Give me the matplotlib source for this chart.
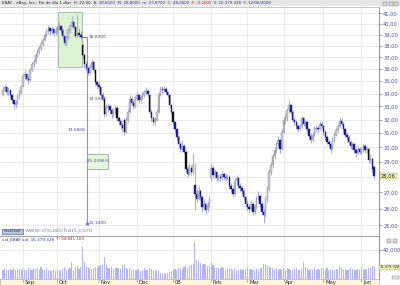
import numpy as np
import pandas as pd
import matplotlib
matplotlib.use("Agg")
import matplotlib.pyplot as plt
from matplotlib.patches import Rectangle
from matplotlib.text import Annotation

# ---------------- data ----------------
holidays = ['2007-09-03', '2007-11-22', '2007-12-25', '2008-01-01', '2008-01-21',
            '2008-02-18', '2008-03-21', '2008-05-26']
dates = pd.bdate_range('2007-08-17', '2008-06-11', freq='C', holidays=holidays)

opens = [34.0, 34.3, 34.5, 34.1, 34.3, 33.9, 33.5, 33.1, 33.3, 33.8,
         34.1, 34.6, 35.4, 35.6, 35.2, 35.1, 35.9, 36.4, 36.6, 37.2,
         37.5, 37.8, 38.2, 38.5, 39.0, 39.3, 39.6, 39.3, 39.5, 39.2,
         39.4, 39.6, 39.8, 39.4, 38.9, 38.3, 38.7, 39.4, 39.8, 40.2,
         39.7, 38.9, 39.2, 39.0, 38.1, 37.2, 36.4, 36.1, 35.7, 36.2,
         36.6, 35.9, 34.9, 34.7, 34.5, 33.9, 33.6, 32.4, 32.9, 33.0,
         32.7, 32.4, 32.6, 32.9, 32.1, 31.9, 31.6, 32.0, 31.1, 32.0,
         32.6, 33.6, 33.3, 33.0, 33.6, 33.9, 33.5, 33.7, 33.9, 34.1,
         34.2, 33.9, 32.6, 32.1, 31.8, 32.0, 32.6, 33.9, 34.4, 34.3,
         34.4, 34.1, 33.9, 33.1, 32.6, 31.8, 31.3, 30.7, 30.2, 29.9,
         30.1, 29.7, 28.5, 28.2, 28.6, 28.3, 27.5, 26.9, 26.6, 27.1,
         26.7, 26.1, 26.3, 25.9, 26.2, 27.9, 28.6, 28.1, 28.3, 27.9,
         28.0, 27.9, 28.2, 28.0, 27.9, 28.0, 27.4, 27.2, 26.9, 27.7,
         27.9, 27.4, 27.3, 27.1, 26.7, 26.3, 26.1, 26.0, 26.3, 25.8,
         26.1, 26.6, 26.8, 26.3, 25.8, 25.6, 26.6, 27.2, 28.3, 28.8,
         29.4, 29.8, 30.2, 30.5, 29.9, 31.1, 32.0, 32.1, 32.7, 33.1,
         32.6, 32.0, 31.8, 31.5, 31.3, 31.5, 32.1, 31.7, 31.8, 31.3,
         30.8, 30.5, 30.9, 31.3, 31.4, 31.3, 31.7, 31.5, 31.1, 30.7,
         30.4, 30.2, 29.9, 30.5, 30.9, 31.2, 31.5, 31.9, 31.7, 31.3,
         30.9, 30.7, 30.4, 30.1, 30.2, 29.8, 29.6, 29.9, 29.7, 29.8,
         30.1, 29.8, 29.9, 29.1, 29.2, 28.65]
highs = [34.6, 34.8, 34.6, 34.5, 34.4, 34.0, 33.6, 33.5, 34.0, 34.3,
         34.7, 35.6, 35.9, 35.7, 35.5, 36.1, 36.6, 36.9, 37.4, 37.7,
         38.0, 38.4, 38.7, 39.2, 39.5, 39.9, 39.7, 39.8, 39.6, 39.7,
         39.9, 40.2, 39.9, 39.5, 39.0, 38.9, 39.6, 40.0, 40.7, 40.3,
         39.8, 40.8, 39.6, 39.3, 38.3, 37.4, 36.7, 36.3, 36.4, 36.9,
         36.7, 36.0, 35.1, 35.0, 34.6, 34.1, 33.8, 33.2, 33.3, 33.1,
         32.9, 32.9, 33.1, 33.0, 32.3, 32.0, 31.8, 32.1, 32.2, 32.8,
         33.9, 33.8, 33.5, 33.8, 34.1, 34.0, 33.9, 34.1, 34.3, 34.5,
         34.4, 34.0, 32.8, 32.3, 32.2, 32.8, 34.1, 34.6, 34.6, 34.6,
         34.5, 34.2, 34.0, 33.2, 32.7, 31.9, 31.4, 30.9, 30.4, 30.5,
         30.2, 29.8, 28.7, 28.9, 28.8, 29.6, 28.9, 27.2, 27.4, 27.2,
         26.8, 26.6, 26.4, 26.4, 26.8, 28.9, 28.8, 28.5, 28.4, 28.2,
         28.2, 28.4, 28.3, 28.2, 28.2, 28.1, 27.6, 27.3, 27.9, 28.1,
         28.0, 27.6, 27.4, 27.2, 26.8, 26.5, 26.3, 26.5, 26.4, 26.3,
         26.8, 27.1, 26.9, 26.4, 26.0, 26.8, 27.4, 28.5, 29.0, 29.6,
         30.0, 30.4, 30.8, 30.6, 31.3, 32.2, 32.4, 32.9, 33.5, 33.2,
         32.7, 32.2, 32.0, 31.7, 31.7, 32.3, 32.2, 32.0, 31.9, 31.4,
         31.0, 31.1, 31.5, 31.6, 31.5, 31.9, 31.9, 31.6, 31.2, 30.9,
         30.6, 30.3, 30.7, 31.1, 31.4, 31.7, 32.1, 32.1, 31.8, 31.4,
         31.1, 30.9, 30.5, 30.4, 30.3, 30.0, 30.1, 30.0, 30.0, 30.3,
         30.2, 30.1, 30.0, 29.5, 29.3, 28.8]
lows = [33.8, 34.1, 33.9, 33.9, 33.7, 33.3, 32.8, 32.9, 33.2, 33.6,
        34.0, 34.5, 35.2, 35.0, 34.8, 35.0, 35.8, 36.2, 36.5, 37.0,
        37.3, 37.6, 38.0, 38.4, 38.8, 39.1, 39.0, 39.1, 38.9, 39.0,
        39.2, 39.4, 39.2, 38.6, 38.0, 38.1, 38.6, 39.2, 39.6, 39.5,
        38.7, 38.8, 38.8, 38.5, 36.9, 36.1, 35.9, 35.5, 35.6, 36.0,
        35.7, 34.7, 34.4, 34.2, 33.7, 33.4, 32.2, 32.3, 32.6, 32.4,
        32.1, 32.2, 32.4, 31.9, 31.6, 31.3, 31.1, 30.9, 31.0, 31.8,
        32.5, 33.1, 32.8, 32.9, 33.4, 33.3, 33.3, 33.5, 33.7, 33.9,
        33.8, 32.4, 31.9, 31.6, 31.6, 31.9, 32.5, 33.8, 34.0, 34.1,
        33.9, 33.7, 32.9, 32.4, 31.6, 31.1, 30.5, 30.0, 29.7, 29.8,
        29.5, 28.3, 28.0, 28.1, 28.1, 28.2, 25.9, 26.4, 26.5, 26.5,
        25.8, 25.9, 25.7, 25.8, 26.1, 27.7, 27.9, 27.9, 27.7, 27.7,
        27.7, 27.8, 27.8, 27.7, 27.8, 27.2, 27.0, 26.7, 26.8, 27.5,
        27.2, 27.1, 26.9, 26.5, 26.1, 25.9, 25.8, 25.9, 25.6, 25.7,
        26.0, 26.5, 26.1, 25.6, 25.14, 25.5, 26.4, 27.1, 28.1, 28.6,
        29.2, 29.6, 30.0, 29.6, 29.8, 31.0, 31.7, 31.9, 32.5, 32.4,
        31.8, 31.6, 31.3, 31.1, 31.2, 31.4, 31.5, 31.5, 31.1, 30.6,
        30.3, 30.4, 30.8, 31.1, 31.1, 31.2, 31.3, 30.9, 30.5, 30.2,
        30.0, 29.6, 29.8, 30.4, 30.8, 31.1, 31.4, 31.5, 31.1, 30.7,
        30.5, 30.2, 29.9, 29.9, 29.6, 29.3, 29.5, 29.5, 29.5, 29.7,
        29.6, 29.6, 28.9, 28.9, 28.3, 27.87]
closes = [34.3, 34.5, 34.1, 34.3, 33.9, 33.5, 33.2, 33.3, 33.8, 34.1,
          34.5, 35.4, 35.6, 35.2, 35.1, 35.9, 36.4, 36.6, 37.2, 37.5,
          37.8, 38.2, 38.5, 39.0, 39.3, 39.6, 39.3, 39.5, 39.2, 39.4,
          39.6, 39.8, 39.4, 38.9, 38.3, 38.7, 39.4, 39.8, 40.2, 39.7,
          38.9, 39.2, 39.0, 38.8, 37.2, 36.4, 36.1, 35.7, 36.2, 36.6,
          35.9, 34.9, 34.7, 34.5, 33.9, 33.6, 32.4, 32.9, 33.0, 32.7,
          32.4, 32.6, 32.9, 32.1, 31.9, 31.6, 31.4, 31.1, 32.0, 32.6,
          33.6, 33.3, 33.0, 33.6, 33.9, 33.5, 33.7, 33.9, 34.1, 34.2,
          34.0, 32.6, 32.1, 31.8, 32.0, 32.6, 33.9, 34.4, 34.3, 34.4,
          34.1, 33.9, 33.1, 32.6, 31.8, 31.3, 30.7, 30.2, 29.9, 30.1,
          29.7, 28.5, 28.2, 28.6, 28.3, 28.8, 26.9, 26.6, 27.1, 26.7,
          26.1, 26.3, 25.9, 26.2, 26.6, 28.6, 28.1, 28.3, 27.9, 28.0,
          27.9, 28.2, 28.0, 27.9, 28.0, 27.4, 27.2, 26.9, 27.7, 27.9,
          27.4, 27.3, 27.1, 26.7, 26.3, 26.1, 26.0, 26.3, 25.8, 26.1,
          26.6, 26.8, 26.3, 25.8, 25.6, 26.6, 27.2, 28.3, 28.8, 29.4,
          29.8, 30.2, 30.5, 29.9, 31.1, 32.0, 32.1, 32.7, 33.1, 32.6,
          32.0, 31.8, 31.5, 31.3, 31.5, 32.1, 31.7, 31.8, 31.3, 30.8,
          30.5, 30.9, 31.3, 31.4, 31.3, 31.7, 31.5, 31.1, 30.7, 30.4,
          30.2, 29.9, 30.5, 30.9, 31.2, 31.5, 31.9, 31.7, 31.3, 30.9,
          30.7, 30.4, 30.1, 30.2, 29.8, 29.6, 29.9, 29.7, 29.8, 30.1,
          29.8, 29.9, 29.1, 29.2, 28.5, 28.06]
volume_m = [13, 14, 12, 13, 14, 12, 15, 13, 12, 14, 13,
            14, 13, 12, 15, 14, 13, 16, 14, 15, 13,
            17, 14, 13, 15, 12, 11, 13, 12, 11,
            12, 11, 13, 14, 17, 12, 14, 15, 24, 13, 16, 18, 14, 17,
            45,
            24, 18, 15, 16, 14, 15, 17, 16,
            18, 20, 19, 31, 20, 16, 15, 17, 14, 16,
            15, 16, 14, 20, 19, 15, 14, 16, 13, 12,
            13, 12, 14, 11, 13, 16, 12, 13, 15, 14, 12, 13, 11,
            12, 9, 8, 7, 9, 8, 10, 11,
            13, 14, 12, 15, 16, 14, 17, 19, 16, 18, 20, 21,
            51,
            27, 25, 22, 20, 21, 19, 17, 18,
            22, 19, 17, 15, 16, 14, 17, 15, 13, 14, 16,
            14, 13, 15, 12, 13, 14, 12, 14, 13, 15, 12, 14, 13, 12, 14,
            13, 15, 16, 21, 19, 18, 17, 15, 16, 14,
            15, 13, 14, 12, 16, 13, 15, 14, 13, 12, 14, 15, 13, 12, 14,
            24, 17, 15, 13, 14, 12, 15, 13, 14, 12, 16, 14, 13, 15, 12,
            14, 13, 12, 14, 13, 18, 15, 13, 14, 12, 13, 15, 14, 12, 13,
            14, 13, 15, 12, 14, 13, 16, 15, 18, 16.379328]

month_labels = ['Sep', 'Oct', 'Nov', 'Dec', '08', 'Feb', 'Mar', 'Apr', 'May', 'Jun']
price_ticks = list(range(25, 42))
fib_high = 38.82
fib_low = 25.14

# ---------------- figure ----------------
W, H = 400, 285
fig = plt.figure(figsize=(W / 100, H / 100), dpi=100)
fig.patch.set_facecolor('white')


def rect(x0, y0, x1, y1):
    return [x0 / W, 1 - y1 / H, (x1 - x0) / W, (y1 - y0) / H]


O = np.array(opens); Hh = np.array(highs); L = np.array(lows); C = np.array(closes)
V = np.array(volume_m)
n = len(C)
x = np.arange(n)
per = dates.to_period('M')
starts = [int(np.argmax(per == p)) for p in pd.period_range('2007-09', '2008-06', freq='M')]

XL = (-1.66, 207.7)
FS = 3.7
BLUE_TXT = '#4848c0'
GRID = '#e6e6e6'

# header strip
fig.patches.append(Rectangle((0, 1 - 6 / H), 1, 6 / H, transform=fig.transFigure,
                             facecolor='#e6e6e6', edgecolor='none', zorder=0))
prev = fig.text(2 / W, 1 - 3.2 / H, 'EBAY - eBay, Inc.: Fin de día 1 diar  H: 22:00',
                fontsize=2.9, color='#202020', va='center', ha='left')
for s, col in [('  A: 28,6500  M: 28,8000  m: 27,8700  C: 28,0600', '#2a2ab0'),
               ('  F: -0,2600', '#e01010'),
               ('  V: 16.379.328  F: 12/06/2008', '#2a2ab0')]:
    prev = fig.add_artist(Annotation(s, xy=(1, 0.5), xycoords=prev, va='center', ha='left',
                                     fontsize=2.9, color=col, annotation_clip=False))

# window buttons
for bx in (383, 389, 394):
    fig.patches.append(Rectangle((bx / W, 1 - 6 / H), 4 / W, 4 / H, transform=fig.transFigure,
                                 facecolor='#d8d8d8', edgecolor='#707070', lw=0.3))
for bx in (387, 393):
    fig.patches.append(Rectangle((bx / W, 1 - 243 / H), 4 / W, 4 / H, transform=fig.transFigure,
                                 facecolor='#d8d8d8', edgecolor='#707070', lw=0.3))

# ---------------- main price pane ----------------
ax = fig.add_axes(rect(0, 7, 379, 235))
ax.set_yscale('log')
ax.set_xlim(*XL)
ax.set_ylim(24.45, 41.61)
for p in price_ticks:
    ax.axhline(p, color=GRID, lw=0.6, zorder=0)
for s in starts:
    ax.axvline(s, color=GRID, lw=0.6, zorder=0)

# fib zone box
ax.add_patch(Rectangle((30.4, 36.2), 13.2, 41.1 - 36.2, facecolor='#dcf3d4',
                       edgecolor='#8fa88f', lw=0.5, zorder=1))

up = C >= O
down = ~up
big = down & ((O - C) > 0.75)
navy = down & ~big
ax.vlines(x, L, Hh, color='#9c9cd4', lw=0.6, zorder=2)
ax.bar(x[up], np.maximum(C - O, 0.02)[up], bottom=O[up], width=0.8,
       color='#c9c9d1', edgecolor='#8c8c9c', lw=0.3, zorder=3)
ax.bar(x[navy], (O - C)[navy], bottom=C[navy], width=0.8,
       color='#1a1a96', edgecolor='#1a1a96', lw=0.3, zorder=3)
ax.bar(x[big], (O - C)[big], bottom=C[big], width=0.8,
       color='#101010', edgecolor='#101010', lw=0.3, zorder=3)

# retracement drawing
fib_mid = fib_high - 0.382 * (fib_high - fib_low)
ax.hlines(fib_high, 43.2, 46.2, color='#e02020', lw=0.6, zorder=4)
ax.vlines(46.2, fib_low, fib_high, color='#8a8aff', lw=0.8, zorder=4)
ax.plot([46.2], [fib_low], marker='^', ms=1.6, color='#6a6aff', zorder=5)
ax.text(47.2, fib_high, f'{fib_high:.4f}', fontsize=3.2, color=BLUE_TXT, va='center', zorder=6)
ax.text(47.6, fib_mid, f'{fib_mid:.4f}', fontsize=3.2, color=BLUE_TXT, va='center', zorder=6)
ax.text(45.3, np.sqrt(fib_high * fib_low), f'{fib_high - fib_low:.4f}', fontsize=3.2,
        color=BLUE_TXT, va='center', ha='right', zorder=6)
ax.add_patch(Rectangle((46.4, 28.53), 11.6, 29.55 - 28.53, facecolor='#e4f6dc',
                       edgecolor='#8a9a8a', lw=0.5, zorder=5))
ax.text(52.2, np.sqrt(28.53 * 29.55), f'-{(fib_high - fib_low) / fib_high * 100:.4f}%',
        fontsize=3.2, color=BLUE_TXT, va='center', ha='center', zorder=6)
ax.text(47.2, fib_low, f'{fib_low:.4f}', fontsize=3.2, color=BLUE_TXT, va='center', zorder=6)

ax.yaxis.tick_right()
ax.set_yticks(price_ticks)
ax.set_yticklabels(['' if p == 28 else f'{p},00' for p in price_ticks])
ax.yaxis.set_minor_locator(matplotlib.ticker.NullLocator())
ax.tick_params(axis='y', labelsize=FS, colors='#6060c0', labelcolor=BLUE_TXT,
               length=2, width=0.4, pad=1)
ax.set_xticks([])
for sp in ('left', 'bottom'):
    ax.spines[sp].set_visible(False)
ax.spines['top'].set_color('#b0b0b0'); ax.spines['top'].set_linewidth(0.5)
ax.spines['right'].set_color('#808080'); ax.spines['right'].set_linewidth(0.6)

# last price marker
ax.annotate(f'{C[-1]:.2f}'.replace('.', ','), xy=(1, C[-1]),
            xycoords=('axes fraction', 'data'), xytext=(1.5, 0), textcoords='offset points',
            fontsize=FS, color='#303030', va='center', ha='left', annotation_clip=False,
            bbox=dict(boxstyle='square,pad=0.15', fc='#eeeeb0', ec='#a0a060', lw=0.3), zorder=10)

# watermark
fig.patches.append(Rectangle((2 / W, 1 - 233.5 / H), 21 / W, 5 / H, transform=fig.transFigure,
                             facecolor='#b4c6e4', edgecolor='#405070', lw=0.4, zorder=5))
fig.text(12.5 / W, 1 - 231 / H, 'VisualChart', fontsize=2.2, color='#203050',
         ha='center', va='center', zorder=6)
fig.text(25 / W, 1 - 231 / H, 'www.visualchart.com', fontsize=4.6, color='#8c94bc',
         ha='left', va='center', zorder=6)

# ---------------- volume pane ----------------
axv = fig.add_axes(rect(0, 236, 379, 279))
axv.set_xlim(*XL)
axv.set_ylim(0, 60)
for s in starts:
    axv.axvline(s, color=GRID, lw=0.6, zorder=0)
axv.axhline(40, color=GRID, lw=0.6, zorder=0)
axv.bar(x, V, width=0.62, color='#b4b4f2', edgecolor='none', zorder=2)
axv.yaxis.tick_right()
axv.set_yticks([40])
axv.set_yticklabels(['40.000'])
axv.tick_params(axis='y', labelsize=FS, colors='#6060c0', labelcolor=BLUE_TXT,
                length=2, width=0.4, pad=1)
axv.set_xticks([])
for sp in ('left', 'bottom'):
    axv.spines[sp].set_visible(False)
axv.spines['top'].set_color('#909090'); axv.spines['top'].set_linewidth(0.6)
axv.spines['right'].set_color('#808080'); axv.spines['right'].set_linewidth(0.6)
axv.annotate('16.379.328', xy=(1, V[-1]), xycoords=('axes fraction', 'data'),
             xytext=(0.5, 0), textcoords='offset points', fontsize=2.5, color='#303030',
             va='center', ha='left', annotation_clip=False,
             bbox=dict(boxstyle='square,pad=0.08', fc='#eeeeb0', ec='#a0a060', lw=0.3), zorder=10)
tv = axv.text(0.006, 0.93, 'vol_EBAY vol: 16.379.328', transform=axv.transAxes,
              fontsize=3.0, color='#2a2ab0', va='center', ha='left')
axv.add_artist(Annotation('  F: 94.841.160', xy=(1, 0.5), xycoords=tv,
                          va='center', ha='left', fontsize=3.0,
                          color='#e01010', annotation_clip=False))

# ---------------- date strip ----------------
axd = fig.add_axes(rect(0, 279, 379, 285))
axd.set_facecolor('#fbf7d8')
axd.set_xlim(*XL)
axd.set_ylim(0, 1)
axd.vlines(starts, 0.55, 1, color='#707070', lw=0.4)
for s, lab in zip(starts, month_labels):
    axd.text(s + 0.9, 0.35, lab, fontsize=3.8, color='#303030', ha='left', va='center')
axd.set_xticks([]); axd.set_yticks([])
for sp in axd.spines.values():
    sp.set_color('#a0a0a0'); sp.set_linewidth(0.4)

fig.patches.append(Rectangle((392 / W, 1 - 279 / H), 7 / W, 3 / H, transform=fig.transFigure,
                             facecolor='#e8e8e8', edgecolor='#707070', lw=0.3))

fig.savefig('out.png', dpi=100)
